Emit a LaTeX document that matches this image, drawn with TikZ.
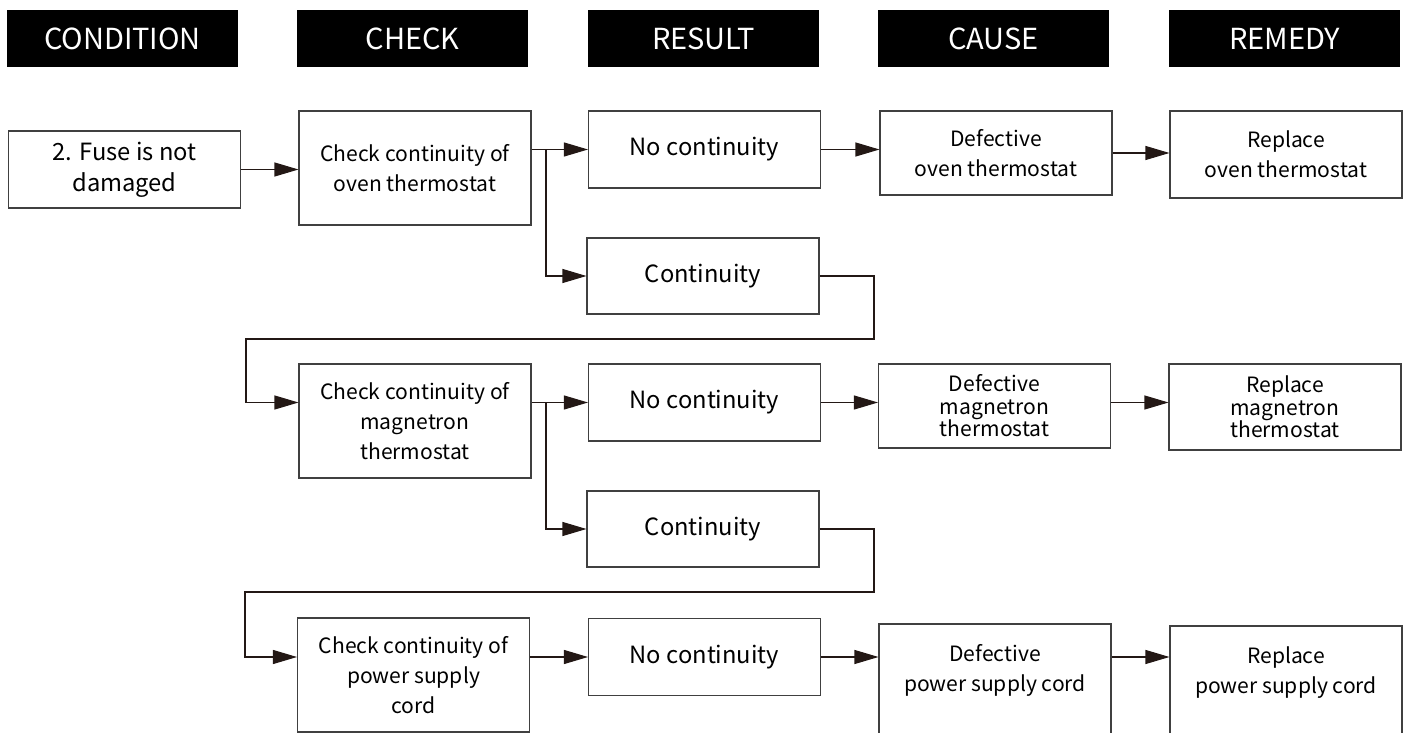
\documentclass[tikz,border=0pt]{standalone}
\usepackage{fontspec}
\setmainfont{Noto Sans CJK SC}
\usetikzlibrary{arrows.meta}
\definecolor{inkdark}{HTML}{231815}
\definecolor{boxline}{HTML}{404040}

\begin{document}
\begin{tikzpicture}[x=0.2mm, y=-0.2mm,
	hdr/.style={fill=black, text=white, minimum width=46.2mm, minimum height=11.4mm, inner sep=0pt, font=\fontsize{16.5}{20}\selectfont},
	box/.style={draw=boxline, line width=0.6pt, fill=white, minimum width=46.4mm, inner sep=0pt, align=center, font=\fontsize{12}{17}\selectfont},
	big/.style={font=\fontsize{13.5}{17.6}\selectfont},
	tight/.style={font=\fontsize{12}{12.8}\selectfont},
	flow/.style={draw=inkdark, line width=0.6pt, -{Triangle[length=4.8mm, width=2.8mm]}}]
	\useasboundingbox (0, 0) rectangle (1407, 733);
	\clip (0, 0) rectangle (1407, 733);

	% column headers
	\draw node[hdr] at (122.5, 38.5) (hcond) {CONDITION};
	\draw node[hdr] at (412.5, 38.5) (hcheck) {CHECK};
	\draw node[hdr] at (703.5, 38.5) (hresult) {RESULT};
	\draw node[hdr] at (993.5, 38.5) (hcause) {CAUSE};
	\draw node[hdr] at (1284.5, 38.5) (hremedy) {REMEDY};

	% oven thermostat
	\draw node[box, big, minimum height=15.4mm] at (124.5, 169.5) (fuse) {2. Fuse is not\\damaged};
	\draw node[box, minimum height=22.8mm] at (415, 168) (chk1) {Check continuity of\\oven thermostat};
	\draw node[box, big, minimum height=15.4mm] at (704.5, 149.5) (nocont1) {No continuity};
	\draw node[box, minimum height=16.8mm] at (996, 153) (defect1) {Defective\\oven thermostat};
	\draw node[box, minimum height=17.4mm] at (1286, 154.5) (replace1) {Replace\\oven thermostat};
	\draw node[box, big, minimum height=15.2mm] at (703, 276) (cont1) {Continuity};

	% magnetron thermostat
	\draw node[box, minimum height=22.8mm] at (415, 421) (chk2) {Check continuity of\\magnetron\\thermostat};
	\draw node[box, big, minimum height=15.4mm] at (704.5, 402.5) (nocont2) {No continuity};
	\draw node[box, tight, minimum height=16.8mm] at (994.5, 406) (defect2) {Defective\\magnetron\\thermostat};
	\draw node[box, tight, minimum height=17.2mm] at (1285, 407) (replace2) {Replace\\magnetron\\thermostat};
	\draw node[box, big, minimum height=15.2mm] at (703, 529) (cont2) {Continuity};

	% power supply cord
	\draw node[box, minimum height=22.8mm] at (413.5, 675) (chk3) {Check continuity of\\power supply\\cord};
	\draw node[box, big, minimum height=15.4mm] at (704.5, 657) (nocont3) {No continuity};
	\draw node[box, text depth=15pt, minimum height=22.8mm] at (995, 681) (defect3) {Defective\\power supply cord};
	\draw node[box, text depth=15pt, minimum height=22.8mm] at (1286, 683) (replace3) {Replace\\power supply cord};

	\coordinate (split1) at (546, 149.5);
	\coordinate (split2) at (546, 402.5);
	\coordinate (turn1a) at (874, 339);
	\coordinate (turn1b) at (246, 339);
	\coordinate (turn2a) at (874, 592);
	\coordinate (turn2b) at (245, 592);

	\draw [flow] (fuse.east) -- (fuse.east -| chk1.west);
	\draw [flow] (chk1.east |- nocont1.west) -- (nocont1.west);
	\draw [flow] (split1) |- (cont1.west);
	\draw [flow] (nocont1.east) -- (nocont1.east -| defect1.west);
	\draw [flow] (defect1.east) -- (defect1.east -| replace1.west);
	\draw [flow] (cont1.east) -| (turn1a) -- (turn1b) |- (chk2.west |- nocont2.west);

	\draw [flow] (chk2.east |- nocont2.west) -- (nocont2.west);
	\draw [flow] (split2) |- (cont2.west);
	\draw [flow] (nocont2.east) -- (nocont2.east -| defect2.west);
	\draw [flow] (defect2.east |- nocont2.east) -- (nocont2.east -| replace2.west);
	\draw [flow] (cont2.east) -| (turn2a) -- (turn2b) |- (chk3.west |- nocont3.west);

	\draw [flow] (chk3.east |- nocont3.west) -- (nocont3.west);
	\draw [flow] (nocont3.east) -- (nocont3.east -| defect3.west);
	\draw [flow] (nocont3.east -| defect3.east) -- (nocont3.east -| replace3.west);
\end{tikzpicture}
\end{document}
